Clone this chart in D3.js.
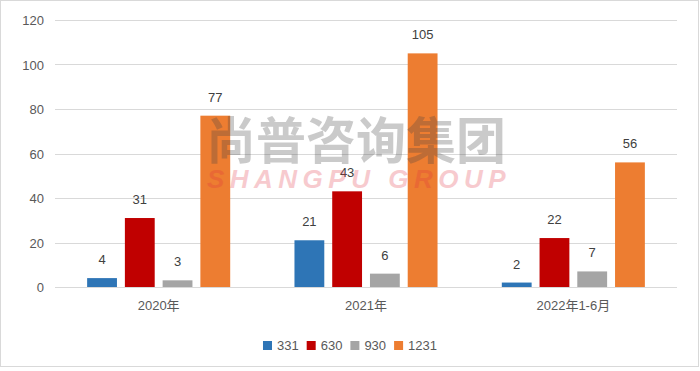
<!DOCTYPE html>
<html>
<head>
  <meta charset="utf-8">
  <script src="https://d3js.org/d3.v7.min.js"></script>
  <style>
    body { margin: 0; background: #fff; }
    text { font-family: "Liberation Sans", "Noto Sans CJK SC", sans-serif; }
  </style>
</head>
<body>
<script>
var categories = ["2020年", "2021年", "2022年1-6月"];
var seriesNames = ["331", "630", "930", "1231"];
var s331 = [4, 21, 2];
var s630 = [31, 43, 22];
var s930 = [3, 6, 7];
var s1231 = [77, 105, 56];
var yTicks = [0, 20, 40, 60, 80, 100, 120];
var colors = ["#2e75b6", "#c00000", "#a5a5a5", "#ed7d31"];

var values = [s331, s630, s930, s1231];
var data = categories.map(function (c, i) {
  return { cat: c, vals: seriesNames.map(function (s, j) { return { name: s, v: values[j][i] }; }) };
});

var svg_w = 700, svg_h = 371;
var svg = d3.select("body").append("svg")
  .attr("width", svg_w)
  .attr("height", svg_h);

svg.append("rect")
  .attr("x", 0.5).attr("y", 0.5)
  .attr("width", 698).attr("height", 366)
  .style("fill", "#fff").style("stroke", "#d9d9d9");

var plotLeft = 55, plotRight = 677, plotTop = 20, plotBottom = 287;

var y = d3.scaleLinear().domain([0, 120]).range([plotBottom, plotTop]);
var x0 = d3.scaleBand().domain(categories).range([plotLeft, plotRight])
  .paddingInner(0.31).paddingOuter(0.155);
var x1 = d3.scaleBand().domain(seriesNames).range([0, x0.bandwidth()])
  .paddingInner(0.21).paddingOuter(0);
var color = d3.scaleOrdinal().domain(seriesNames).range(colors);

// gridlines
svg.append("g").selectAll("line")
  .data(yTicks)
  .enter().append("line")
  .attr("x1", plotLeft).attr("x2", plotRight)
  .attr("y1", function (d) { return Math.round(y(d)) + 0.5; })
  .attr("y2", function (d) { return Math.round(y(d)) + 0.5; })
  .style("stroke", "#d9d9d9").style("stroke-width", 1);

// y labels
svg.append("g").selectAll("text")
  .data(yTicks)
  .enter().append("text")
  .attr("x", 44)
  .attr("y", function (d) { return y(d) + 5; })
  .style("text-anchor", "end")
  .style("font-size", "13px")
  .style("fill", "#595959")
  .text(function (d) { return d; });

// bars
var groups = svg.append("g").selectAll("g")
  .data(data)
  .enter().append("g")
  .attr("transform", function (d) { return "translate(" + x0(d.cat) + ",0)"; });

groups.selectAll("rect")
  .data(function (d) { return d.vals; })
  .enter().append("rect")
  .attr("x", function (d) { return x1(d.name); })
  .attr("y", function (d) { return y(d.v); })
  .attr("width", x1.bandwidth())
  .attr("height", function (d) { return plotBottom - y(d.v); })
  .style("fill", function (d) { return color(d.name); });

groups.selectAll("text")
  .data(function (d) { return d.vals; })
  .enter().append("text")
  .attr("x", function (d) { return x1(d.name) + x1.bandwidth() / 2; })
  .attr("y", function (d) { return y(d.v) - 14; })
  .style("text-anchor", "middle")
  .style("font-size", "13px")
  .style("fill", "#404040")
  .text(function (d) { return d.v; });

// x axis labels
svg.append("g").selectAll("text")
  .data(categories)
  .enter().append("text")
  .attr("x", function (d) { return x0(d) + x0.bandwidth() / 2; })
  .attr("y", 310)
  .style("text-anchor", "middle")
  .style("font-size", "13px")
  .style("fill", "#595959")
  .text(function (d) { return d; });

// watermark
svg.append("text")
  .attr("x", 356).attr("y", 159)
  .style("text-anchor", "middle")
  .style("font-family", "'Noto Sans CJK SC', sans-serif")
  .style("font-size", "50px")
  .style("font-weight", "bold")
  .style("fill", "#444")
  .style("opacity", 0.28)
  .text("尚普咨询集团");
svg.append("text")
  .attr("x", 359).attr("y", 188)
  .style("text-anchor", "middle")
  .style("font-size", "26px")
  .style("font-style", "italic")
  .style("font-weight", "bold")
  .style("letter-spacing", "5.5px")
  .style("fill", "#e0303f")
  .style("opacity", 0.25)
  .text("SHANGPU GROUP");

// legend
var legend = svg.append("g");
var items = legend.selectAll("g")
  .data(seriesNames)
  .enter().append("g");
items.append("rect")
  .attr("width", 9).attr("height", 9)
  .attr("y", 341)
  .style("fill", function (d) { return color(d); });
items.append("text")
  .attr("x", 14).attr("y", 350)
  .style("font-size", "13px")
  .style("fill", "#595959")
  .text(function (d) { return d; });
var lx = 0;
items.each(function () {
  var w = this.querySelector("text").getComputedTextLength();
  d3.select(this).attr("transform", "translate(" + lx + ",0)");
  lx += 14 + w + 8;
});
legend.attr("transform", "translate(" + (350 - (lx - 8) / 2) + ",0)");
</script>
</body>
</html>
